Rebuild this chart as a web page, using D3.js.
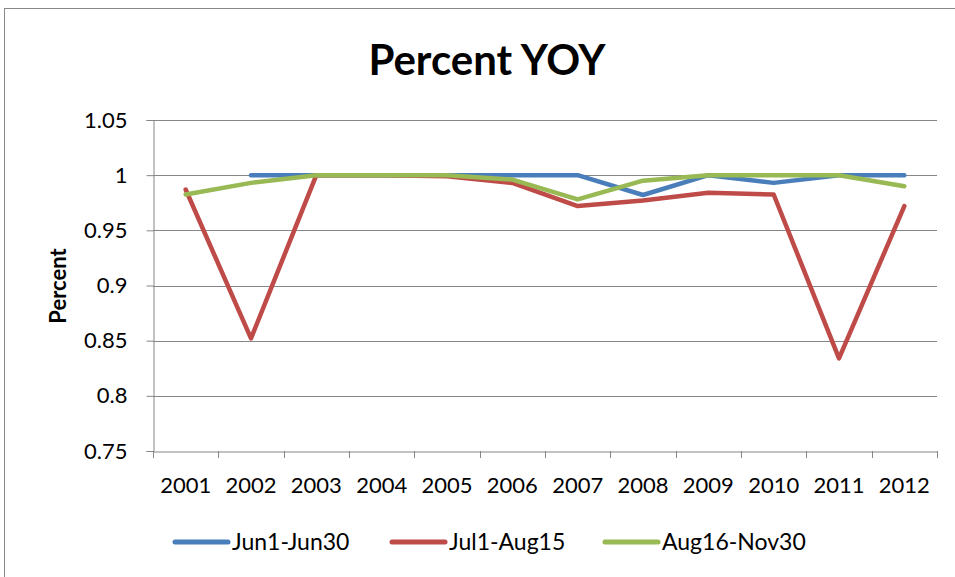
<!DOCTYPE html>
<html>
<head>
<meta charset="utf-8">
<script src="https://cdn.jsdelivr.net/npm/d3@7"></script>
<style>
  body { margin: 0; background: #fff; }
  text { font-family: Lato, "Open Sans", sans-serif; fill: #000; }
</style>
</head>
<body>
<svg id="chart" width="955" height="577"></svg>
<script>
const years = ["2001","2002","2003","2004","2005","2006","2007","2008","2009","2010","2011","2012"];
const jun = [null, 1, 1, 1, 1, 1, 1, 0.982, 1, 0.993, 1, 1];
const jul = [0.987, 0.852, 1, 1, 0.999, 0.993, 0.972, 0.977, 0.984, 0.9825, 0.834, 0.972];
const aug = [0.9825, 0.993, 1, 1, 1, 0.996, 0.978, 0.995, 1, 1, 1, 0.990];
const yTicks = [0.75, 0.8, 0.85, 0.9, 0.95, 1, 1.05];
const seriesNames = ["Jun1-Jun30", "Jul1-Aug15", "Aug16-Nov30"];
const colors = ["#4a7ebb", "#be4b48", "#98b954"];

const svg = d3.select("#chart");

// outer frame
svg.append("rect")
  .attr("x", 4.5).attr("y", 8.5)
  .attr("width", 960).attr("height", 600)
  .attr("fill", "none").attr("stroke", "#888").attr("stroke-width", 1);

const plotL = 153, plotR = 937, plotT = 120, plotB = 451;

const x = d3.scaleBand().domain(years).range([plotL, plotR]);
const y = d3.scaleLinear().domain([0.75, 1.05]).range([plotB, plotT]);

// gridlines
svg.append("g")
  .selectAll("line")
  .data(yTicks.slice(1))
  .enter().append("line")
  .attr("x1", plotL).attr("x2", plotR)
  .attr("y1", d => Math.round(y(d)) + 0.5).attr("y2", d => Math.round(y(d)) + 0.5)
  .attr("stroke", "#868686").attr("stroke-width", 1);

// y axis
const yAxis = svg.append("g")
  .attr("transform", `translate(${plotL + 0.5},0)`)
  .call(d3.axisLeft(y).tickValues(yTicks).tickSize(7).tickPadding(19)
    .tickFormat(d => d3.format("")(+d.toFixed(2))));
yAxis.selectAll("path, line").attr("stroke", "#868686");
yAxis.selectAll("text").style("font-size", "22px").attr("font-family", "Lato, sans-serif");

// x axis
const xAxis = svg.append("g")
  .attr("transform", `translate(0,${Math.round(plotB) + 0.5})`)
  .call(d3.axisBottom(x).tickSize(0).tickPadding(26));
xAxis.select("path").attr("stroke", "#868686");
xAxis.selectAll("text").style("font-size", "22px").attr("font-family", "Lato, sans-serif");
// category-boundary ticks
svg.append("g")
  .selectAll("line")
  .data(years.concat(["end"]))
  .enter().append("line")
  .attr("x1", (d, i) => Math.round(plotL + i * x.step()) + 0.5)
  .attr("x2", (d, i) => Math.round(plotL + i * x.step()) + 0.5)
  .attr("y1", plotB).attr("y2", plotB + 7)
  .attr("stroke", "#868686");

// lines
const line = d3.line()
  .defined(d => d.v !== null)
  .x(d => x(d.year) + x.bandwidth() / 2)
  .y(d => y(d.v));

[jun, jul, aug].forEach((vals, i) => {
  svg.append("path")
    .datum(years.map((yr, j) => ({ year: yr, v: vals[j] })))
    .attr("fill", "none")
    .attr("stroke", colors[i])
    .attr("stroke-width", 4.5)
    .attr("stroke-linecap", "round")
    .attr("stroke-linejoin", "round")
    .attr("d", line);
});

// title
svg.append("text")
  .attr("x", 487).attr("y", 75)
  .attr("text-anchor", "middle")
  .style("font-size", "42px").style("font-weight", "bold")
  .text("Percent YOY");

// y label
svg.append("text")
  .attr("transform", "translate(66,286) rotate(-90)")
  .attr("text-anchor", "middle")
  .style("font-size", "22px").style("font-weight", "bold")
  .text("Percent");

// legend
const legendX = [175, 392, 605];
seriesNames.forEach((name, i) => {
  const g = svg.append("g").attr("transform", `translate(${legendX[i]},542)`);
  g.append("line")
    .attr("x1", 0).attr("x2", 53)
    .attr("stroke", colors[i]).attr("stroke-width", 5).attr("stroke-linecap", "round");
  g.append("text")
    .attr("x", 57).attr("dy", "0.35em")
    .style("font-size", "23px")
    .text(name);
});
</script>
</body>
</html>
